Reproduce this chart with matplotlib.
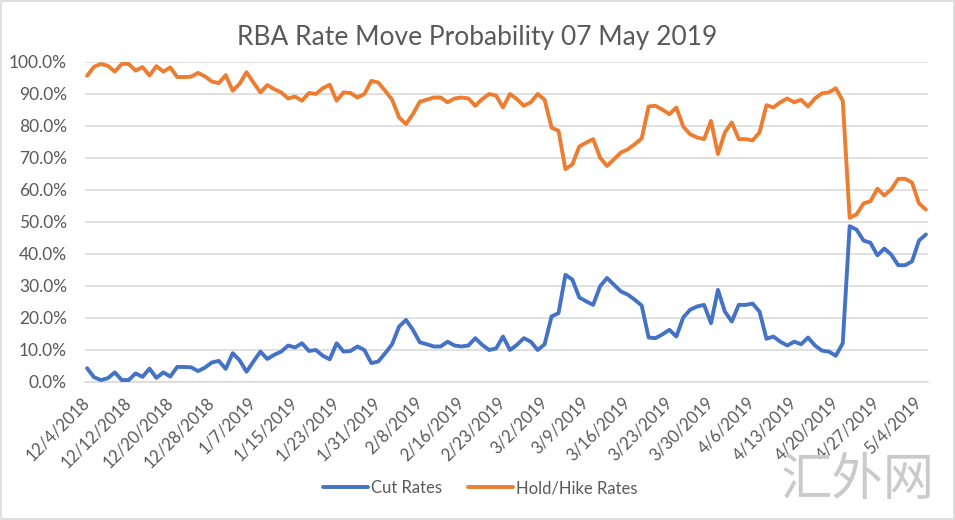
import matplotlib
matplotlib.use('Agg')
import matplotlib.pyplot as plt
from matplotlib.ticker import PercentFormatter, FixedLocator
from matplotlib.patches import Rectangle

plt.rcParams['font.family'] = ['Lato', 'Noto Sans CJK SC', 'DejaVu Sans']

title = 'RBA Rate Move Probability 07 May 2019'

tick_labels = ['12/4/2018', '12/12/2018', '12/20/2018', '12/28/2018', '1/7/2019',
               '1/15/2019', '1/23/2019', '1/31/2019', '2/8/2019', '2/16/2019',
               '2/23/2019', '3/2/2019', '3/9/2019', '3/16/2019', '3/23/2019',
               '3/30/2019', '4/6/2019', '4/13/2019', '4/20/2019', '4/27/2019',
               '5/4/2019']
label_step = 6

# probabilities in percent, one value per trading day
cut_rates = [4.3, 1.5, 0.6, 1.2, 3.0, 0.6, 0.6, 2.7, 1.6, 4.2,
             1.3, 3.0, 1.7, 4.7, 4.7, 4.6, 3.4, 4.5, 6.1, 6.6,
             4.1, 9.0, 6.8, 3.2, 6.4, 9.5, 7.2, 8.5, 9.5, 11.4,
             10.8, 12.1, 9.7, 10.0, 8.2, 7.1, 12.1, 9.5, 9.7, 11.1,
             10.0, 5.9, 6.4, 9.0, 11.8, 17.3, 19.4, 16.3, 12.4, 11.8,
             11.1, 11.1, 12.6, 11.4, 11.1, 11.4, 13.7, 11.6, 10.0, 10.5,
             14.2, 10.0, 11.6, 13.7, 12.6, 10.0, 11.8, 20.5, 21.5, 33.5,
             32.0, 26.4, 25.2, 24.1, 29.9, 32.5, 30.4, 28.3, 27.3, 25.7,
             23.9, 13.9, 13.7, 14.9, 16.3, 14.2, 20.2, 22.6, 23.6, 24.1,
             18.4, 28.8, 22.0, 18.9, 24.1, 24.1, 24.5, 22.0, 13.5, 14.2,
             12.6, 11.4, 12.6, 11.8, 13.9, 11.4, 9.8, 9.5, 8.2, 12.1,
             48.7, 47.6, 44.2, 43.5, 39.6, 41.7, 39.8, 36.5, 36.5, 37.7,
             44.2, 46.1]

hold_hike_rates = [95.7, 98.5, 99.4, 98.8, 97.0, 99.4, 99.4, 97.3, 98.4, 95.8,
                   98.7, 97.0, 98.3, 95.3, 95.3, 95.4, 96.6, 95.5, 93.9, 93.4,
                   95.9, 91.0, 93.2, 96.8, 93.6, 90.5, 92.8, 91.5, 90.5, 88.6,
                   89.2, 87.9, 90.3, 90.0, 91.8, 92.9, 87.9, 90.5, 90.3, 88.9,
                   90.0, 94.1, 93.6, 91.0, 88.2, 82.7, 80.6, 83.7, 87.6, 88.2,
                   88.9, 88.9, 87.4, 88.6, 88.9, 88.6, 86.3, 88.4, 90.0, 89.5,
                   85.8, 90.0, 88.4, 86.3, 87.4, 90.0, 88.2, 79.5, 78.5, 66.5,
                   68.0, 73.6, 74.8, 75.9, 70.1, 67.5, 69.6, 71.7, 72.7, 74.3,
                   76.1, 86.1, 86.3, 85.1, 83.7, 85.8, 79.8, 77.4, 76.4, 75.9,
                   81.6, 71.2, 78.0, 81.1, 75.9, 75.9, 75.5, 78.0, 86.5, 85.8,
                   87.4, 88.6, 87.4, 88.2, 86.1, 88.6, 90.2, 90.5, 91.8, 87.9,
                   51.3, 52.4, 55.8, 56.5, 60.4, 58.3, 60.2, 63.5, 63.5, 62.3,
                   55.8, 53.9]

text_color = '#595959'
grid_color = '#D9D9D9'

fig = plt.figure(figsize=(9.55, 5.2), dpi=100)
ax = fig.add_axes([85 / 955, 1 - 382 / 520, 843 / 955, 320 / 520])

x = list(range(len(cut_rates)))
ax.plot(x, cut_rates, color='#4472C4', lw=2.8, label='Cut Rates',
        solid_joinstyle='round', solid_capstyle='round', clip_on=False, zorder=3)
ax.plot(x, hold_hike_rates, color='#ED7D31', lw=2.8, label='Hold/Hike Rates',
        solid_joinstyle='round', solid_capstyle='round', clip_on=False, zorder=3)

ax.set_xlim(-0.3, len(cut_rates) - 0.7)
ax.set_ylim(0, 100)
ax.set_yticks(range(0, 101, 10))
ax.yaxis.set_major_formatter(PercentFormatter(xmax=100, decimals=1))
ax.xaxis.set_major_locator(FixedLocator([i * label_step for i in range(len(tick_labels))]))
ax.set_xticklabels(tick_labels, rotation=45, ha='right', va='center',
                   rotation_mode='anchor')

ax.grid(axis='y', color=grid_color, lw=1.1)
ax.set_axisbelow(True)
for side in ['top', 'right', 'left']:
    ax.spines[side].set_visible(False)
ax.spines['bottom'].set_color(grid_color)
ax.spines['bottom'].set_linewidth(1.1)
ax.tick_params(axis='y', length=0, pad=13, labelsize=12.5, labelcolor=text_color)
ax.tick_params(axis='x', length=0, pad=13, labelsize=12, labelcolor=text_color)

fig.text(0.5, 1 - 37 / 520, title, ha='center', va='center',
         fontsize=19, color=text_color)

fig.legend(loc='center', bbox_to_anchor=(0.503, 1 - 488 / 520), ncol=2,
           frameon=False, fontsize=12, handlelength=2.7, handletextpad=0.15,
           columnspacing=1.6, labelcolor=text_color)

# watermark
fig.text(858 / 955, 1 - 480 / 520, '汇外网', ha='center', va='center',
         fontsize=37, color='#CACACA', family=['Noto Sans CJK SC'],
         fontweight='light')

fig.patches.append(Rectangle((0.001, 0.002), 0.998, 0.996, transform=fig.transFigure,
                             fill=False, edgecolor=grid_color, lw=1.2))

fig.savefig('out.png', dpi=100)
